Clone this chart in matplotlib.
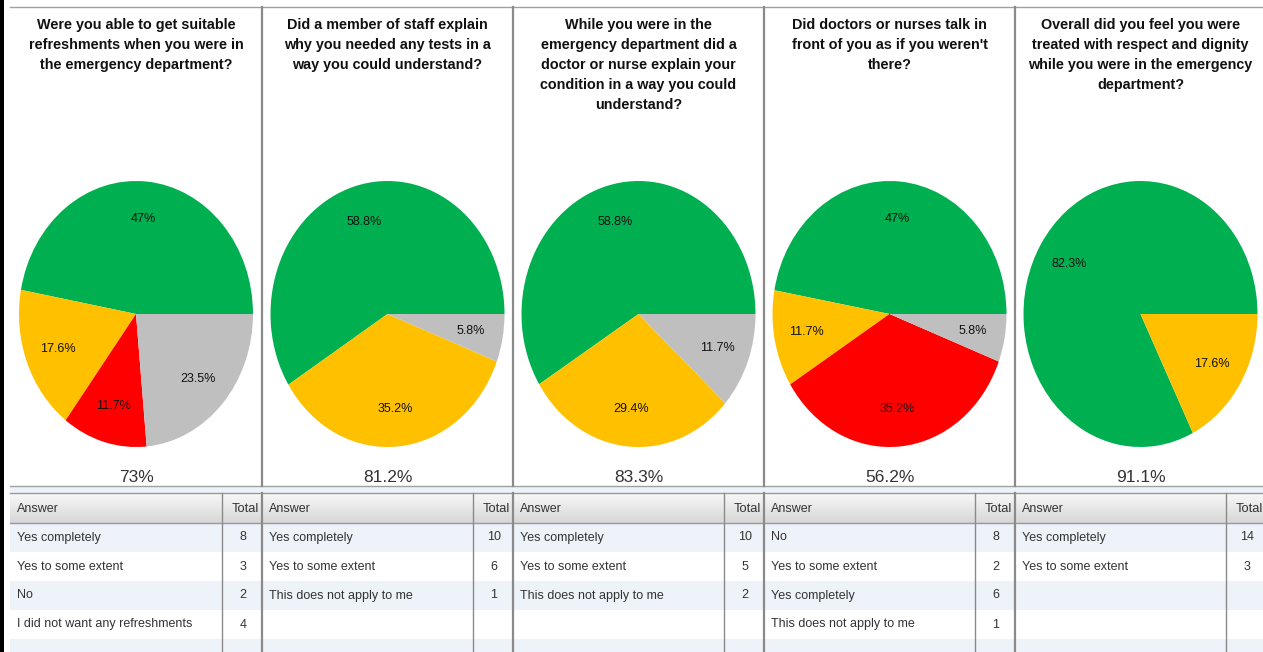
import matplotlib as mpl
mpl.use('Agg')
import matplotlib.pyplot as plt
import numpy as np

W, H = 1263, 652

# ---- data ----
titles = [
    ["Were you able to get suitable", "refreshments when you were in", "the emergency department?"],
    ["Did a member of staff explain", "why you needed any tests in a", "way you could understand?"],
    ["While you were in the", "emergency department did a", "doctor or nurse explain your",
     "condition in a way you could", "understand?"],
    ["Did doctors or nurses talk in", "front of you as if you weren't", "there?"],
    ["Overall did you feel you were", "treated with respect and dignity",
     "while you were in the emergency", "department?"],
]
pie_pcts = [
    [47, 17.6, 11.7, 23.5],
    [58.8, 35.2, 5.8],
    [58.8, 29.4, 11.7],
    [47, 11.7, 35.2, 5.8],
    [82.3, 17.6],
]
GREEN, YELLOW, RED, GREY = '#00B050', '#FFC000', '#FF0000', '#BFBFBF'
pie_colors = [
    [GREEN, YELLOW, RED, GREY],
    [GREEN, YELLOW, GREY],
    [GREEN, YELLOW, GREY],
    [GREEN, YELLOW, RED, GREY],
    [GREEN, YELLOW],
]
scores = ["73%", "81.2%", "83.3%", "56.2%", "91.1%"]
answers = [
    ["Yes completely", "Yes to some extent", "No", "I did not want any refreshments"],
    ["Yes completely", "Yes to some extent", "This does not apply to me"],
    ["Yes completely", "Yes to some extent", "This does not apply to me"],
    ["No", "Yes to some extent", "Yes completely", "This does not apply to me"],
    ["Yes completely", "Yes to some extent"],
]
totals = [
    [8, 3, 2, 4],
    [10, 6, 1],
    [10, 5, 2],
    [8, 2, 6, 1],
    [14, 3],
]

# ---- layout (pixels) ----
seps = [262, 513, 764, 1015]
lefts = [10] + seps
rights = seps + [1266]
pie_cy, rx, ry = 314, 117, 133
row_top, row_h = 523, 29
TXT = '#333333'
FONT = 'Liberation Sans'

fig = plt.figure(figsize=(W / 100, H / 100), dpi=100)
ax = fig.add_axes([0, 0, 1, 1])
ax.set_xlim(0, W); ax.set_ylim(H, 0); ax.axis('off')

# table background
for k in range(5):
    y0 = row_top + k * row_h
    col = '#EEF2F9' if k % 2 == 0 else 'white'
    ax.add_patch(plt.Rectangle((10, y0), W - 10, row_h, color=col, lw=0, zorder=0))
ax.add_patch(plt.Rectangle((10, 486), W - 10, 7, color='#EEF2F9', lw=0, zorder=0))
grad = np.linspace(0.97, 0.84, 30)[:, None] * np.ones((30, 2))
ax.imshow(grad, cmap='gray', vmin=0, vmax=1, extent=[10, W, row_top, 493],
          aspect='auto', zorder=0.5)
ax.set_xlim(0, W); ax.set_ylim(H, 0)
ax.plot([10, W], [493, 493], color='#999999', lw=1, zorder=1)
ax.plot([10, W], [row_top, row_top], color='#999999', lw=1, zorder=1)

# frame lines
ax.plot([10, W], [7, 7], color='#A0A0A0', lw=1, zorder=1)
ax.plot([10, W], [486, 486], color='#A0A0A0', lw=1, zorder=1)
ax.add_patch(plt.Rectangle((0, 0), 3.5, H, color='black', lw=0, zorder=3))
for x in seps:
    ax.plot([x, x], [7, 486], color='#8A8A8A', lw=1.6, zorder=1)
    ax.plot([x, x], [493, H], color='#8A8A8A', lw=1.6, zorder=1)
for r in rights:
    ax.plot([r - 40, r - 40], [493, H], color='#8A8A8A', lw=1, zorder=1)

for i in range(5):
    L, R = lefts[i], rights[i]
    cx = (L + R) / 2
    for j, line in enumerate(titles[i]):
        ax.text(cx, 25 + 20 * j, line, ha='center', va='center', fontsize=10.4,
                fontweight='bold', family=FONT, color='#111111')
    ax.text(cx, 477, scores[i], ha='center', va='center', fontsize=12.5,
            family=FONT, color=TXT)
    # table
    ax.text(L + 7, 509, "Answer", ha='left', va='center', fontsize=9, family=FONT, color=TXT)
    ax.text(R - 3, 509, "Total", ha='right', va='center', fontsize=9.3, family=FONT, color=TXT)
    for k, (a, t) in enumerate(zip(answers[i], totals[i])):
        yc = row_top + row_h * k + row_h / 2
        ax.text(L + 7, yc, a, ha='left', va='center', fontsize=9, family=FONT, color=TXT)
        ax.text(R - 19, yc, str(t), ha='center', va='center', fontsize=9, family=FONT, color=TXT)

    # pie
    pax = fig.add_axes([(cx - rx) / W, (H - (pie_cy + ry)) / H, 2 * rx / W, 2 * ry / H])
    wedges, _ = pax.pie(pie_pcts[i], colors=pie_colors[i], startangle=0, counterclock=True,
                        wedgeprops=dict(linewidth=0))
    pax.set_aspect('auto')
    pax.set_xlim(-1, 1); pax.set_ylim(-1, 1); pax.axis('off')
    for w, v in zip(wedges, pie_pcts[i]):
        w.set_clip_on(False)
        ang = np.deg2rad((w.theta1 + w.theta2) / 2)
        pax.text(0.72 * np.cos(ang), 0.72 * np.sin(ang), f"{v:g}%", ha='center', va='center',
                 fontsize=9, family=FONT, color='#111111')

plt.savefig('out.png', dpi=100)
plt.close()
